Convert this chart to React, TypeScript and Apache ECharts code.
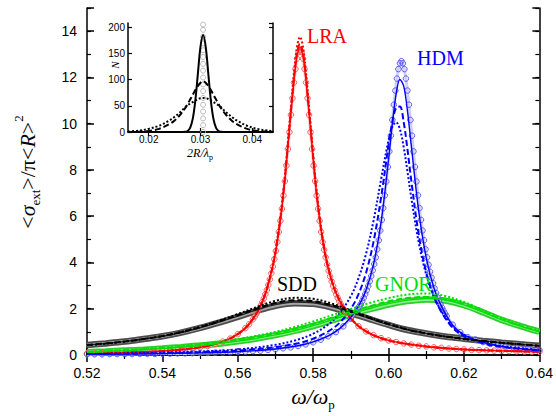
import React, { useEffect, useRef } from "react";
import * as echarts from "echarts";

// ---------- main plot data (omega / omega_p) ----------
// LRA (red) – circles on a dense grid near the resonance
const lraCircX = [
  0.520, 0.522, 0.524, 0.526, 0.528, 0.530, 0.532, 0.534, 0.536, 0.538, 0.540, 0.542, 0.544, 0.546, 0.548, 0.550, 0.552, 0.554, 0.556,
  0.558, 0.560, 0.562, 0.563, 0.564,
  0.5645, 0.5649, 0.5653, 0.5657, 0.5661, 0.5665, 0.5669, 0.5673, 0.5677, 0.5681, 0.5685, 0.5689, 0.5693, 0.5697, 0.5701, 0.5705,
  0.5709, 0.5713, 0.5717, 0.5721, 0.5725, 0.5729, 0.5733, 0.5737, 0.5741, 0.5745, 0.5749, 0.5753, 0.5757, 0.5761, 0.5765, 0.5769,
  0.5773, 0.5777, 0.5781, 0.5785, 0.5789, 0.5793, 0.5797, 0.5801, 0.5805, 0.5809, 0.5813, 0.5817, 0.5821, 0.5825, 0.5829, 0.5833,
  0.5837, 0.5841, 0.5845, 0.5849, 0.5853, 0.5857, 0.5861, 0.5865, 0.5869, 0.5873, 0.5877, 0.5881, 0.5885,
  0.590, 0.592, 0.594, 0.596, 0.598, 0.600, 0.602, 0.604, 0.606, 0.608, 0.610, 0.612, 0.614, 0.616, 0.618, 0.620, 0.622, 0.624,
  0.626, 0.628, 0.630, 0.632, 0.634, 0.636, 0.638, 0.640,
];
const lraCirc = [
  0.07, 0.07, 0.08, 0.09, 0.09, 0.10, 0.11, 0.12, 0.13, 0.15, 0.17, 0.19, 0.21, 0.24, 0.28, 0.33, 0.39, 0.47, 0.58,
  0.71, 0.90, 1.16, 1.33, 1.54,
  1.66, 1.77, 1.88, 2.01, 2.14, 2.28, 2.44, 2.62, 2.81, 3.03, 3.27, 3.53, 3.82, 4.14, 4.50, 4.89,
  5.32, 5.80, 6.32, 6.89, 7.52, 8.19, 8.90, 9.63, 10.38, 11.10, 11.78, 12.36, 12.81, 13.10, 13.20, 13.10,
  12.81, 12.36, 11.78, 11.10, 10.38, 9.63, 8.90, 8.19, 7.52, 6.89, 6.32, 5.80, 5.32, 4.89, 4.55, 4.22,
  3.91, 3.64, 3.40, 3.18, 2.98, 2.79, 2.62, 2.47, 2.33, 2.20, 2.08, 1.98, 1.88,
  1.57, 1.25, 1.02, 0.86, 0.73, 0.63, 0.56, 0.50, 0.45, 0.40, 0.37, 0.33, 0.31, 0.28, 0.26, 0.24, 0.22, 0.21,
  0.20, 0.19, 0.18, 0.17, 0.16, 0.15, 0.14, 0.14,
];
const lraLineX = [
  0.520, 0.530, 0.540, 0.550, 0.556, 0.560, 0.563, 0.566, 0.568, 0.570, 0.572, 0.574, 0.5755, 0.5765,
  0.5775, 0.579, 0.581, 0.583, 0.585, 0.587, 0.590, 0.594, 0.600, 0.610, 0.620, 0.630, 0.640,
];
const lraSolid = [0.07, 0.10, 0.17, 0.33, 0.58, 0.90, 1.33, 2.11, 3.00, 4.42, 6.80, 10.28, 12.70, 13.30, 12.70, 10.28, 6.80, 4.49, 3.15, 2.35, 1.57, 1.02, 0.63, 0.37, 0.24, 0.18, 0.14];
const lraDashed = [0.07, 0.10, 0.17, 0.33, 0.58, 0.90, 1.34, 2.12, 3.02, 4.45, 6.86, 10.38, 12.84, 13.45, 12.84, 10.38, 6.86, 4.52, 3.17, 2.36, 1.58, 1.02, 0.63, 0.37, 0.24, 0.18, 0.14];
const lraDotted = [0.07, 0.10, 0.17, 0.34, 0.59, 0.91, 1.35, 2.15, 3.06, 4.52, 6.97, 10.55, 13.10, 13.75, 13.10, 10.55, 6.97, 4.58, 3.20, 2.38, 1.59, 1.03, 0.64, 0.37, 0.24, 0.18, 0.14];

// HDM (blue)
const hdmCircX = [
  0.520, 0.522, 0.524, 0.526, 0.528, 0.530, 0.532, 0.534, 0.536, 0.538, 0.540, 0.542, 0.544, 0.546, 0.548, 0.550, 0.552, 0.554,
  0.556, 0.558, 0.560, 0.562, 0.564, 0.566, 0.568, 0.570, 0.572, 0.574, 0.576, 0.578, 0.580, 0.582, 0.584, 0.586, 0.588, 0.590,
  0.591,
  0.5914, 0.5918, 0.5922, 0.5926, 0.5930, 0.5934, 0.5938, 0.5942, 0.5946, 0.5950, 0.5954, 0.5958, 0.5962, 0.5966, 0.5970, 0.5974,
  0.5978, 0.5982, 0.5986, 0.5990, 0.5994, 0.5998, 0.6002, 0.6006, 0.6010, 0.6014, 0.6018, 0.6022, 0.6026, 0.6030, 0.6034, 0.6038,
  0.6042, 0.6046, 0.6050, 0.6054, 0.6058, 0.6062, 0.6066, 0.6070, 0.6074, 0.6078, 0.6082, 0.6086, 0.6090, 0.6094, 0.6098, 0.6102,
  0.6106, 0.6110, 0.6114, 0.6118, 0.6122, 0.6126, 0.6130, 0.6134, 0.6138, 0.6142, 0.6146, 0.6150, 0.6154,
  0.617, 0.619, 0.621, 0.623, 0.625, 0.627, 0.629, 0.631, 0.633, 0.635, 0.637, 0.639, 0.640,
];
const hdmCirc = [
  0.03, 0.03, 0.03, 0.04, 0.04, 0.04, 0.04, 0.05, 0.05, 0.05, 0.06, 0.06, 0.07, 0.07, 0.08, 0.09, 0.09, 0.10,
  0.11, 0.12, 0.14, 0.15, 0.17, 0.19, 0.22, 0.25, 0.29, 0.33, 0.39, 0.46, 0.55, 0.66, 0.81, 0.99, 1.24, 1.59,
  1.81,
  1.89, 1.99, 2.09, 2.20, 2.33, 2.47, 2.63, 2.80, 2.98, 3.19, 3.41, 3.66, 3.93, 4.22, 4.57, 4.96,
  5.38, 5.84, 6.35, 6.90, 7.50, 8.13, 8.80, 9.48, 10.16, 10.82, 11.43, 11.95, 12.36, 12.61, 12.70, 12.61,
  12.36, 11.95, 11.43, 10.82, 10.16, 9.48, 8.80, 8.13, 7.50, 6.90, 6.35, 5.84, 5.38, 4.96, 4.57, 4.22,
  3.90, 3.60, 3.34, 3.10, 2.88, 2.68, 2.49, 2.33, 2.18, 2.04, 1.91, 1.79, 1.68,
  1.31, 0.99, 0.77, 0.67, 0.56, 0.48, 0.42, 0.37, 0.33, 0.30, 0.27, 0.24, 0.22,
];
const hdmLineX = [
  0.520, 0.530, 0.540, 0.550, 0.560, 0.570, 0.576, 0.580, 0.584, 0.587, 0.590, 0.592, 0.594, 0.596, 0.598, 0.600,
  0.601, 0.602, 0.603, 0.604, 0.605, 0.606, 0.608, 0.610, 0.612, 0.614, 0.617, 0.620, 0.625, 0.630, 0.635, 0.640,
];
const hdmSolid = [0.03, 0.04, 0.06, 0.09, 0.14, 0.26, 0.40, 0.57, 0.83, 1.14, 1.63, 2.10, 2.80, 3.92, 5.73, 8.46, 10.00, 11.28, 11.91, 11.63, 10.56, 9.08, 6.21, 4.19, 2.91, 2.11, 1.29, 0.87, 0.55, 0.37, 0.27, 0.21];
const hdmDashed = [0.04, 0.05, 0.08, 0.12, 0.19, 0.34, 0.51, 0.71, 1.02, 1.39, 2.00, 2.62, 3.54, 4.89, 6.80, 9.09, 10.08, 10.69, 10.74, 10.07, 8.90, 7.57, 5.20, 3.57, 2.53, 1.86, 1.18, 0.82, 0.51, 0.35, 0.26, 0.20];
const hdmDotted = [0.05, 0.07, 0.10, 0.15, 0.24, 0.44, 0.67, 0.92, 1.32, 1.80, 2.55, 3.31, 4.36, 5.80, 7.58, 9.30, 9.86, 10.06, 9.77, 8.99, 7.94, 6.82, 4.86, 3.47, 2.53, 1.90, 1.24, 0.88, 0.56, 0.39, 0.29, 0.22];

// SDD (black) and GNOR (green) – broad resonances
const broadX = [
  0.520, 0.525, 0.530, 0.535, 0.540, 0.545, 0.550, 0.555, 0.560, 0.565, 0.570, 0.575, 0.580,
  0.585, 0.590, 0.595, 0.600, 0.605, 0.610, 0.615, 0.620, 0.625, 0.630, 0.635, 0.640,
];
const sddCirc = [0.43, 0.50, 0.58, 0.69, 0.81, 0.97, 1.17, 1.40, 1.65, 1.91, 2.13, 2.24, 2.21, 2.05, 1.81, 1.55, 1.30, 1.08, 0.93, 0.80, 0.70, 0.61, 0.53, 0.46, 0.40];
const sddSolid = [0.43, 0.50, 0.58, 0.69, 0.81, 0.97, 1.18, 1.42, 1.68, 1.95, 2.18, 2.29, 2.26, 2.09, 1.84, 1.57, 1.31, 1.09, 0.93, 0.80, 0.70, 0.61, 0.53, 0.46, 0.40];
const sddDashed = [0.43, 0.50, 0.58, 0.69, 0.82, 0.99, 1.20, 1.45, 1.72, 2.00, 2.25, 2.37, 2.33, 2.15, 1.88, 1.60, 1.33, 1.10, 0.93, 0.80, 0.70, 0.61, 0.53, 0.46, 0.40];
const sddDotted = [0.42, 0.49, 0.58, 0.69, 0.82, 1.00, 1.22, 1.48, 1.77, 2.07, 2.34, 2.47, 2.43, 2.22, 1.93, 1.63, 1.35, 1.11, 0.93, 0.80, 0.69, 0.60, 0.53, 0.46, 0.40];

const gnorCirc = [0.12, 0.15, 0.19, 0.23, 0.28, 0.34, 0.41, 0.49, 0.59, 0.71, 0.86, 1.04, 1.25, 1.50, 1.75, 1.98, 2.18, 2.33, 2.40, 2.35, 2.15, 1.85, 1.52, 1.25, 1.01];
const gnorSolid = [0.12, 0.15, 0.19, 0.23, 0.28, 0.34, 0.41, 0.50, 0.60, 0.72, 0.87, 1.05, 1.27, 1.52, 1.77, 2.01, 2.22, 2.37, 2.44, 2.38, 2.17, 1.86, 1.53, 1.25, 1.01];
const gnorDashed = [0.13, 0.16, 0.20, 0.25, 0.30, 0.36, 0.44, 0.53, 0.64, 0.77, 0.93, 1.12, 1.35, 1.61, 1.87, 2.11, 2.32, 2.46, 2.51, 2.43, 2.20, 1.88, 1.54, 1.26, 1.02];
const gnorDotted = [0.14, 0.17, 0.21, 0.26, 0.32, 0.39, 0.47, 0.57, 0.69, 0.83, 1.00, 1.21, 1.45, 1.72, 1.99, 2.25, 2.46, 2.61, 2.66, 2.55, 2.29, 1.94, 1.58, 1.28, 1.03];

// ---------- inset: size distributions N(2R/lambda_p) ----------
const insetX = [
  0.016, 0.018, 0.020, 0.022, 0.024, 0.025, 0.026, 0.027, 0.0275, 0.028, 0.0285, 0.029, 0.0295, 0.030, 0.0305,
  0.031, 0.0315, 0.032, 0.0325, 0.033, 0.0335, 0.034, 0.035, 0.036, 0.037, 0.039, 0.041, 0.043, 0.044,
];
const insetSolid = [0, 0, 0, 0, 0, 0, 0, 0.4, 2, 8, 25, 60, 112, 163, 185, 163, 112, 60, 25, 8, 2, 0.4, 0, 0, 0, 0, 0, 0, 0];
const insetDashed = [0, 0.5, 2, 6, 15, 22, 32, 45, 53, 62, 71, 80, 88, 94, 97, 94, 88, 80, 71, 62, 53, 45, 32, 22, 15, 6, 2, 0.5, 0.2];
const insetDotted = [1, 2.5, 6, 12, 22, 29, 37, 47, 51, 54, 57, 60, 63, 64.5, 65, 64.5, 63, 60, 57, 54, 51, 47, 37, 29, 22, 12, 6, 2.5, 1.5];
const insetMonoX = 0.0305;
const insetMonoN = [0, 13, 26, 39, 52, 65, 78, 91, 104, 117, 130, 143, 156, 169, 182, 195, 205];

// tick labels
const mainYTicks = [0, 2, 4, 6, 8, 10, 12, 14];
const insetXTicks = [0.02, 0.03, 0.04];

const pairs = (xs: number[], ys: number[]) => xs.map((x, i) => [x, ys[i]]);

const RED = "#ff0000";
const BLUE = "#0000ff";
const GREEN = "#00dd00";
const BLACK = "#000000";
const SANS = "'Liberation Sans', Arial, sans-serif";
const SERIF = "'Liberation Serif', 'Times New Roman', serif";

function lineSeries(name: string, xs: number[], ys: number[], color: string, kind: string, inset = false) {
  const type = kind === "solid" ? "solid" : kind === "dashed" ? [6, 3] : [2, 2];
  return {
    name,
    type: "line",
    xAxisIndex: inset ? 2 : 0,
    yAxisIndex: inset ? 4 : 1,
    data: pairs(xs, ys),
    smooth: 0.35,
    symbol: "none",
    silent: true,
    lineStyle: { color, width: kind === "solid" ? 1.4 : 2, type },
    z: 3,
  };
}

function circleSeries(name: string, xs: number[], ys: number[], edge: string, band: string) {
  return {
    name,
    type: "line",
    xAxisIndex: 0,
    yAxisIndex: 1,
    data: pairs(xs, ys),
    symbol: "circle",
    symbolSize: 5.5,
    showSymbol: true,
    showAllSymbol: true,
    silent: true,
    itemStyle: { color: "rgba(255,255,255,0)", borderColor: edge, borderWidth: 1 },
    lineStyle: { color: band, width: 3 },
    z: 2,
  };
}

function bandSeries(name: string, ys: number[], outer: string, inner: string) {
  return [
    {
      name: name + "-outer",
      type: "line",
      xAxisIndex: 0,
      yAxisIndex: 1,
      data: pairs(broadX, ys),
      smooth: 0.35,
      symbol: "none",
      silent: true,
      lineStyle: { color: outer, width: 6.5 },
      z: 2,
    },
    {
      name: name + "-inner",
      type: "line",
      xAxisIndex: 0,
      yAxisIndex: 1,
      data: pairs(broadX, ys),
      smooth: 0.35,
      symbol: "none",
      silent: true,
      lineStyle: { color: inner, width: 3 },
      z: 2,
    },
  ];
}

export default function App() {
  const ref = useRef<HTMLDivElement>(null);

  useEffect(() => {
    document.body.style.margin = "0";
    if (!ref.current) return;
    const chart = echarts.init(ref.current, null, { renderer: "svg" });

    const frameLine = { show: true, lineStyle: { color: BLACK, width: 1.5 } };
    const mainXBase = {
      type: "value",
      gridIndex: 0,
      min: 0.52,
      max: 0.64,
      interval: 0.02,
      axisLine: frameLine,
      axisTick: { show: true, inside: true, length: 7, lineStyle: { color: BLACK, width: 1.5 } },
      minorTick: { show: true, splitNumber: 2, length: 4, lineStyle: { color: BLACK, width: 1.2 } },
      splitLine: { show: false },
    };
    const mainYMinor = {
      type: "value",
      gridIndex: 0,
      min: 0,
      max: 15,
      interval: 1,
      axisLine: frameLine,
      axisTick: { show: true, inside: true, length: 4, lineStyle: { color: BLACK, width: 1.2 } },
      axisLabel: { show: false },
      splitLine: { show: false },
    };
    const mainYMajor = {
      type: "value",
      gridIndex: 0,
      min: 0,
      max: 15,
      interval: 2,
      axisLine: { show: false },
      axisTick: { show: true, inside: true, length: 7, lineStyle: { color: BLACK, width: 1.5 } },
      splitLine: { show: false },
    };
    const insetLine = { show: true, lineStyle: { color: BLACK, width: 1.5 } };

    const option: any = {
      animation: false,
      backgroundColor: "#ffffff",
      grid: [
        { left: 87, top: 8, width: 456, height: 347, containLabel: false },
        { left: 128, top: 23, width: 145, height: 109, show: true, backgroundColor: "#ffffff", borderWidth: 0, z: 5 },
      ],
      xAxis: [
        {
          ...mainXBase,
          position: "bottom",
          axisLabel: {
            show: true,
            color: BLACK,
            fontSize: 14,
            fontFamily: SANS,
            margin: 11,
            formatter: (v: number) => v.toFixed(2),
          },
        },
        { ...mainXBase, position: "top", axisLabel: { show: false } },
        {
          type: "value",
          gridIndex: 1,
          position: "bottom",
          min: 0.016,
          max: 0.044,
          axisLine: insetLine,
          axisTick: { show: true, inside: true, length: 4, customValues: insetXTicks, lineStyle: { color: BLACK, width: 1.2 } },
          axisLabel: {
            show: true,
            customValues: insetXTicks,
            color: BLACK,
            fontSize: 10,
            fontFamily: SANS,
            margin: 2,
            formatter: (v: number) => v.toFixed(2),
          },
          splitLine: { show: false },
          z: 6,
        },
        {
          type: "value",
          gridIndex: 1,
          position: "top",
          min: 0.016,
          max: 0.044,
          axisLine: insetLine,
          axisTick: { show: true, inside: true, length: 4, customValues: insetXTicks, lineStyle: { color: BLACK, width: 1.2 } },
          axisLabel: { show: false },
          splitLine: { show: false },
          z: 6,
        },
      ],
      yAxis: [
        { ...mainYMinor, position: "left" },
        {
          ...mainYMajor,
          position: "left",
          axisLabel: {
            show: true,
            color: BLACK,
            fontSize: 14,
            fontFamily: SANS,
            margin: 10,
            customValues: mainYTicks,
          },
        },
        { ...mainYMinor, position: "right" },
        { ...mainYMajor, position: "right", axisLabel: { show: false } },
        {
          type: "value",
          gridIndex: 1,
          position: "left",
          min: 0,
          max: 208,
          interval: 50,
          axisLine: insetLine,
          axisTick: { show: true, inside: true, length: 4, lineStyle: { color: BLACK, width: 1.2 } },
          axisLabel: { show: true, color: BLACK, fontSize: 10, fontFamily: SANS, margin: 3, showMaxLabel: false },
          splitLine: { show: false },
          z: 6,
        },
        {
          type: "value",
          gridIndex: 1,
          position: "right",
          min: 0,
          max: 208,
          interval: 50,
          axisLine: insetLine,
          axisTick: { show: true, inside: true, length: 4, lineStyle: { color: BLACK, width: 1.2 } },
          axisLabel: { show: false },
          splitLine: { show: false },
          z: 6,
        },
      ],
      series: [
        ...bandSeries("GNOR circles", gnorCirc, "#2ccf2c", "#8cf08c"),
        ...bandSeries("SDD circles", sddCirc, "#4d4d4d", "#a6a6a6"),
        circleSeries("LRA circles", lraCircX, lraCirc, "#f06060", "#fbd0d0"),
        circleSeries("HDM circles", hdmCircX, hdmCirc, "#5a5af0", "#d0d0fb"),
        lineSeries("LRA solid", lraLineX, lraSolid, RED, "solid"),
        lineSeries("LRA dashed", lraLineX, lraDashed, RED, "dashed"),
        lineSeries("LRA dotted", lraLineX, lraDotted, RED, "dotted"),
        lineSeries("HDM solid", hdmLineX, hdmSolid, BLUE, "solid"),
        lineSeries("HDM dashed", hdmLineX, hdmDashed, BLUE, "dashed"),
        lineSeries("HDM dotted", hdmLineX, hdmDotted, BLUE, "dotted"),
        lineSeries("SDD solid", broadX, sddSolid, "#222222", "solid"),
        lineSeries("SDD dashed", broadX, sddDashed, BLACK, "dashed"),
        lineSeries("SDD dotted", broadX, sddDotted, BLACK, "dotted"),
        lineSeries("GNOR solid", broadX, gnorSolid, GREEN, "solid"),
        lineSeries("GNOR dashed", broadX, gnorDashed, GREEN, "dashed"),
        lineSeries("GNOR dotted", broadX, gnorDotted, GREEN, "dotted"),
        {
          name: "inset monodisperse",
          type: "scatter",
          xAxisIndex: 2,
          yAxisIndex: 4,
          data: insetMonoN.map((n) => [insetMonoX, n]),
          symbol: "circle",
          symbolSize: 5,
          silent: true,
          itemStyle: { color: "rgba(255,255,255,0)", borderColor: "#a8a8a8", borderWidth: 1 },
          z: 7,
        },
        { ...lineSeries("inset solid", insetX, insetSolid, BLACK, "solid", true), z: 8, lineStyle: { color: BLACK, width: 2 } },
        { ...lineSeries("inset dashed", insetX, insetDashed, BLACK, "dashed", true), z: 8 },
        { ...lineSeries("inset dotted", insetX, insetDotted, BLACK, "dotted", true), z: 8 },
      ],
      graphic: [
        { type: "text", x: 307, y: 36, style: { text: "LRA", fill: RED, fontSize: 20, fontFamily: SERIF, verticalAlign: "middle" }, z: 10 },
        { type: "text", x: 417, y: 58, style: { text: "HDM", fill: BLUE, fontSize: 20, fontFamily: SERIF, verticalAlign: "middle" }, z: 10 },
        { type: "text", x: 277, y: 284, style: { text: "SDD", fill: BLACK, fontSize: 20, fontFamily: SERIF, verticalAlign: "middle" }, z: 10 },
        { type: "text", x: 375, y: 284, style: { text: "GNOR", fill: GREEN, fontSize: 20, fontFamily: SERIF, verticalAlign: "middle" }, z: 10 },
        {
          type: "text",
          x: 313,
          y: 396,
          style: {
            text: "{i|ω/ω}{s|p}",
            align: "center",
            verticalAlign: "middle",
            rich: {
              i: { fontSize: 22, fontStyle: "italic", fontFamily: SERIF, fill: BLACK, lineHeight: 30, verticalAlign: "middle" },
              s: { fontSize: 13, fontFamily: SERIF, fill: BLACK, lineHeight: 13, verticalAlign: "bottom" },
            },
          },
          z: 10,
        },
        {
          type: "text",
          x: 27,
          y: 172,
          rotation: Math.PI / 2,
          style: {
            text: "{n|<}{i|σ}{s|ext}{n|>/π<}{i|R}{n|>}{u|2}",
            align: "center",
            verticalAlign: "middle",
            rich: {
              n: { fontSize: 22, fontFamily: SERIF, fill: BLACK, lineHeight: 30, verticalAlign: "middle" },
              i: { fontSize: 22, fontStyle: "italic", fontFamily: SERIF, fill: BLACK, lineHeight: 30, verticalAlign: "middle" },
              s: { fontSize: 13, fontFamily: SERIF, fill: BLACK, lineHeight: 13, verticalAlign: "bottom" },
              u: { fontSize: 13, fontFamily: SERIF, fill: BLACK, lineHeight: 13, verticalAlign: "top" },
            },
          },
          z: 10,
        },
        {
          type: "text",
          x: 200,
          y: 153,
          style: {
            text: "{i|2R/λ}{s|p}",
            align: "center",
            verticalAlign: "middle",
            rich: {
              i: { fontSize: 12, fontStyle: "italic", fontFamily: SERIF, fill: BLACK, lineHeight: 16, verticalAlign: "middle" },
              s: { fontSize: 8, fontFamily: SERIF, fill: BLACK, lineHeight: 8, verticalAlign: "bottom" },
            },
          },
          z: 10,
        },
        {
          type: "text",
          x: 115,
          y: 65,
          rotation: Math.PI / 2,
          style: { text: "N", fontSize: 11, fontStyle: "italic", fontFamily: SERIF, fill: BLACK, align: "center", verticalAlign: "middle" },
          z: 10,
        },
      ],
    };

    chart.setOption(option);
    return () => chart.dispose();
  }, []);

  return <div ref={ref} style={{ width: 556, height: 416 }} />;
}
